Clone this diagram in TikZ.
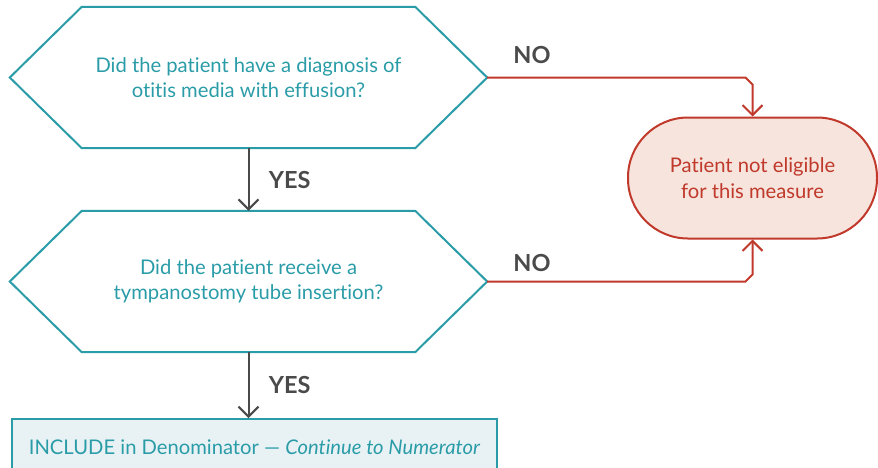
\documentclass[tikz,border=0pt]{standalone}
\usepackage{fontspec}
\setmainfont{Lato}[Ligatures=NoCommon]
\usetikzlibrary{arrows.meta,calc}

\definecolor{qteal}{HTML}{2A9CA8}
\definecolor{nored}{HTML}{C0392B}
\definecolor{nofill}{HTML}{F6E4DD}
\definecolor{infill}{HTML}{E8F2F4}
\definecolor{flowgray}{HTML}{4A4A4A}

\tikzset{
  question/.style={minimum width=477pt, minimum height=141pt, inner sep=0pt,
    align=center, text=qteal, font=\fontsize{20.2}{25.5}\selectfont},
  hexline/.style={draw=qteal, line width=2pt, line join=miter},
  exitbox/.style={draw=nored, fill=nofill, line width=2pt, rounded corners=60pt,
    minimum width=249pt, minimum height=121pt, align=center, text=nored,
    font=\fontsize{20.2}{25.5}\selectfont},
  includebox/.style={draw=qteal, fill=infill, line width=2pt, minimum width=485pt,
    minimum height=56pt, text=qteal, font=\fontsize{20.2}{25}\selectfont},
  yesarrow/.style={draw=flowgray, line width=2pt,
    -{Straight Barb[length=10pt,width=20pt,line width=2pt]}},
  noarrow/.style={draw=nored, line width=2pt,
    -{Straight Barb[length=10pt,width=20pt,line width=2pt]}},
  answer/.style={text=flowgray, font=\bfseries\fontsize{23.5}{26}\selectfont}
}

\def\chamfer{72pt}
\newcommand\hexOutline[1]{
  \draw[hexline]
    (#1.west) -- ([xshift=\chamfer]#1.north west)
    -- ([xshift=-\chamfer]#1.north east) -- (#1.east)
    -- ([xshift=-\chamfer]#1.south east)
    -- ([xshift=\chamfer]#1.south west) -- cycle
  ;
}

\begin{document}
\begin{tikzpicture}[x=1pt,y=-1pt]
  \useasboundingbox (0,0) rectangle (878,467);

  \node[question] (diagnosis) at (248.5,77.5)
    {Did the patient have a diagnosis of\\otitis media with effusion?};
  \hexOutline{diagnosis}

  \node[question] (tube) at (248.5,281.5)
    {Did the patient receive a\\tympanostomy tube insertion?};
  \hexOutline{tube}

  \node[exitbox] (noteligible) at (752.5,178)
    {Patient not eligible\\for this measure};

  \node[includebox] (denominator) at (254.5,447)
    {INCLUDE in Denominator --- \textit{Continue to Numerator}};

  \draw[yesarrow] (diagnosis.south) -- (tube.north)
    node[answer, midway, right=16pt] {YES};
  \draw[yesarrow] (tube.south) -- (tube.south |- denominator.north)
    node[answer, midway, right=16pt] {YES};

  \draw[noarrow]
    (diagnosis.east)
    -- ([xshift=-7pt]diagnosis.east -| noteligible.north)
    -- ([yshift=-7pt]diagnosis.east -| noteligible.north)
    -- (noteligible.north)
  ;
  \draw[noarrow]
    (tube.east)
    -- ([xshift=-7pt]tube.east -| noteligible.south)
    -- ([yshift=7pt]tube.east -| noteligible.south)
    -- (noteligible.south)
  ;
  \node[answer] (nofirst) at (532,55) {NO};
  \node[answer] (nosecond) at (532,263) {NO};
\end{tikzpicture}
\end{document}
